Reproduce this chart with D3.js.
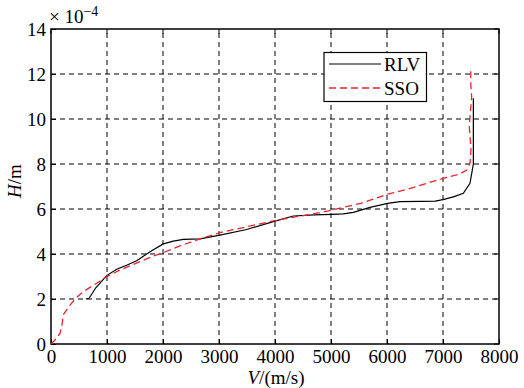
<!DOCTYPE html>
<html><head><meta charset="utf-8">
<script src="https://cdn.jsdelivr.net/npm/d3@7"></script>
<style>
body{margin:0;background:#fff;}
svg text{font-family:"Liberation Serif","Times New Roman",serif;fill:#000;}
</style></head>
<body><svg id="c" width="524" height="388"></svg>
<script>
const xTicks = [0,1000,2000,3000,4000,5000,6000,7000,8000];
const yTicks = [0,2,4,6,8,10,12,14];
const seriesNames = ["RLV","SSO"];
const rlvV = [620, 680, 800, 994, 1173, 1350, 1530, 1768, 2006, 2184, 2363, 2661, 3018, 3494, 3970, 4327, 4700, 5012, 5220, 5399, 5696, 6012, 6232, 6600, 6860, 7000, 7200, 7363, 7482, 7523, 7542, 7542];
const rlvH = [2.0, 2.03, 2.5, 3.04, 3.32, 3.5, 3.7, 4.1, 4.45, 4.57, 4.65, 4.67, 4.84, 5.09, 5.44, 5.69, 5.74, 5.76, 5.78, 5.85, 6.07, 6.25, 6.33, 6.34, 6.35, 6.42, 6.55, 6.7, 7.14, 7.73, 8.0, 10.92];
const ssoV = [0, 71, 161, 200, 220, 339, 450, 577, 815, 994, 1232, 1589, 1827, 2006, 2304, 2661, 3018, 3494, 3970, 4268, 4685, 5012, 5530, 6012, 6351, 7006, 7304, 7423, 7482, 7500, 7470, 7482, 7512, 7495, 7495];
const ssoH = [0, 0.18, 0.47, 0.9, 1.3, 1.73, 2.05, 2.33, 2.7, 2.99, 3.29, 3.66, 3.91, 4.06, 4.36, 4.67, 4.95, 5.21, 5.47, 5.61, 5.78, 5.95, 6.25, 6.66, 6.87, 7.36, 7.56, 7.73, 8.03, 8.62, 9.66, 10.1, 10.99, 11.59, 12.18];

const svg = d3.select("#c");
const L=51,R=499,T=29,B=344;
const x = d3.scaleLinear().domain([0,8000]).range([L,R]);
const y = d3.scaleLinear().domain([0,14]).range([B,T]);
const fs = 19;

// grid
const g = svg.append("g");
g.selectAll(".vg").data(xTicks.slice(1,-1)).enter().append("line")
 .attr("x1",d=>x(d)).attr("x2",d=>x(d)).attr("y1",B).attr("y2",T)
 .attr("stroke","#000").attr("stroke-width",1).attr("stroke-dasharray","5,4");
g.selectAll(".hg").data(yTicks.slice(1,-1)).enter().append("line")
 .attr("y1",d=>y(d)).attr("y2",d=>y(d)).attr("x1",L).attr("x2",R)
 .attr("stroke","#000").attr("stroke-width",1).attr("stroke-dasharray","5,4");

// axes
const xa = svg.append("g").attr("transform",`translate(0,${B})`)
 .call(d3.axisBottom(x).tickValues(xTicks).tickSize(-5).tickPadding(6).tickFormat(d3.format("d")));
const ya = svg.append("g").attr("transform",`translate(${L},0)`)
 .call(d3.axisLeft(y).tickValues(yTicks).tickSize(-5).tickPadding(5));
[xa,ya].forEach(a=>{a.select(".domain").remove();a.selectAll("line").attr("stroke","#000");
 a.selectAll("text").style("font-size",fs+"px").style("font-family","Liberation Serif");});
// top/right ticks
svg.append("g").selectAll("line").data(xTicks).enter().append("line")
 .attr("x1",d=>x(d)).attr("x2",d=>x(d)).attr("y1",T).attr("y2",T+5).attr("stroke","#000");
svg.append("g").selectAll("line").data(yTicks).enter().append("line")
 .attr("y1",d=>y(d)).attr("y2",d=>y(d)).attr("x1",R).attr("x2",R-5).attr("stroke","#000");
svg.append("rect").attr("x",L).attr("y",T).attr("width",R-L).attr("height",B-T)
 .attr("fill","none").attr("stroke","#000").attr("stroke-width",1.5);

// lines
const line = d3.line().x(d=>x(d[0])).y(d=>y(d[1]));
const rlv = rlvV.map((v,i)=>[v,rlvH[i]]);
const sso = ssoV.map((v,i)=>[v,ssoH[i]]);
svg.append("path").datum(rlv).attr("d",line).attr("fill","none").attr("stroke","#000").attr("stroke-width",1.2);
svg.append("path").datum(sso).attr("d",line).attr("fill","none").attr("stroke","#e8242c").attr("stroke-width",1.3).attr("stroke-dasharray","7,4");

// legend
const lg = svg.append("g");
lg.append("rect").attr("x",324).attr("y",52.5).attr("width",102.5).attr("height",49)
 .attr("fill","#fff").attr("stroke","#000").attr("stroke-width",1.2);
lg.append("line").attr("x1",329).attr("x2",381).attr("y1",64).attr("y2",64).attr("stroke","#000").attr("stroke-width",1.2);
lg.append("line").attr("x1",329).attr("x2",381).attr("y1",88).attr("y2",88).attr("stroke","#e8242c").attr("stroke-width",1.3).attr("stroke-dasharray","7,4");
lg.append("text").attr("x",384).attr("y",71).style("font-size",fs+"px").text(seriesNames[0]);
lg.append("text").attr("x",384).attr("y",95).style("font-size",fs+"px").text(seriesNames[1]);

// exponent
const ex = svg.append("text").attr("x",49).attr("y",23).style("font-size",fs+"px");
ex.append("tspan").text("\u00d7 10");
ex.append("tspan").attr("dy",-7).style("font-size","14px").text("\u22124");

// axis labels
const xl = svg.append("text").attr("x",276).attr("y",384).attr("text-anchor","middle").style("font-size",fs+"px");
xl.append("tspan").style("font-style","italic").text("V");
xl.append("tspan").text("/(m/s)");
const yl = svg.append("text").attr("transform","translate(21,181) rotate(-90)").attr("text-anchor","middle").style("font-size",fs+"px");
yl.append("tspan").style("font-style","italic").text("H");
yl.append("tspan").text("/m");
</script></body></html>
